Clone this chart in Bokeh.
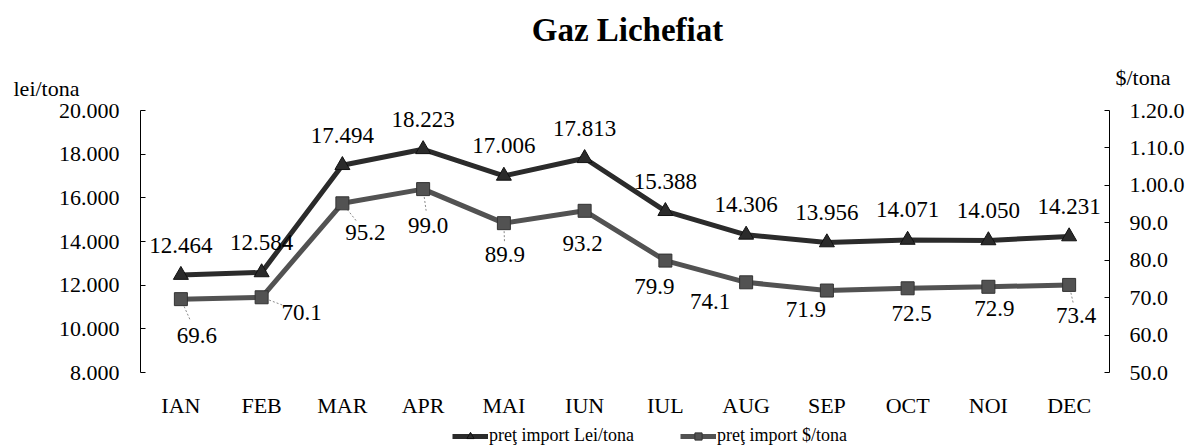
from bokeh.plotting import figure
from bokeh.models import (Range1d, LinearAxis, FixedTicker, ColumnDataSource,
                          LabelSet, Label, Legend, LegendItem)
from bokeh.embed import file_html
from bokeh.resources import INLINE

# ---- data ----
months = ["IAN", "FEB", "MAR", "APR", "MAI", "IUN", "IUL", "AUG", "SEP", "OCT", "NOI", "DEC"]
lei_per_tona = [12464, 12584, 17494, 18223, 17006, 17813, 15388, 14306, 13956, 14071, 14050, 14231]
usd_per_tona = [69.6, 70.1, 95.2, 99.0, 89.9, 93.2, 79.9, 74.1, 71.9, 72.5, 72.9, 73.4]
left_ticks = [8000, 10000, 12000, 14000, 16000, 18000, 20000]
left_tick_labels = ["8.000", "10.000", "12.000", "14.000", "16.000", "18.000", "20.000"]
right_ticks = [50, 60, 70, 80, 90, 100, 110, 120]
right_tick_labels = ["50.0", "60.0", "70.0", "80.0", "90.0", "1.00.0", "1.10.0", "1.20.0"]
series_names = ["preţ import Lei/tona", "preţ import $/tona"]
title_text = "Gaz Lichefiat"
left_unit = "lei/tona"
right_unit = "$/tona"

# ---- layout / styling ----
FONT = "Liberation Serif"
W, H = 1187, 447
AX_L, AX_R, AX_T, AX_B = 140, 1109, 110, 372      # axis box in canvas px
LEI_MIN, LEI_MAX = left_ticks[0], left_ticks[-1]
USD_MIN, USD_MAX = right_ticks[0], right_ticks[-1]
PX_X = (AX_R - AX_L) / len(months)
LEI_PER_PX = (LEI_MAX - LEI_MIN) / (AX_B - AX_T)
USD_PER_PX = (USD_MAX - USD_MIN) / (AX_B - AX_T)
x0 = -0.5 - AX_L / PX_X
x1 = len(months) - 0.5 + (W - AX_R) / PX_X
y0 = LEI_MIN - (H - AX_B) * LEI_PER_PX
y1 = LEI_MAX + AX_T * LEI_PER_PX
u0 = USD_MIN - (H - AX_B) * USD_PER_PX
u1 = USD_MAX + AX_T * USD_PER_PX


def cx(px):
    return x0 + px / PX_X


def cy(py):
    return y1 - py * LEI_PER_PX


usd_label_dx = [16, 40, 23, 5, 1, -2, -11, -36, -21, 4, 6, 7]
usd_label_dy = [-36, -15, -29, -36, -31, -33, -26, -19, -19, -25, -22, -31]
usd_leader = [True, True, True, True, True, False, False, False, False, False, False, True]

xs = list(range(len(months)))

p = figure(width=W, height=H, x_range=Range1d(x0, x1), y_range=Range1d(y0, y1),
           output_backend="svg", toolbar_location=None,
           min_border_left=0, min_border_right=0, min_border_top=0, min_border_bottom=0)
p.extra_y_ranges = {"usd": Range1d(u0, u1)}
p.xgrid.visible = False
p.ygrid.visible = False
p.outline_line_color = None
p.background_fill_color = "white"
p.border_fill_color = "white"

# left axis (fixed at the left edge of the category span)
ya = p.yaxis[0]
ya.fixed_location = -0.5
ya.bounds = (LEI_MIN, LEI_MAX)
ya.ticker = FixedTicker(ticks=left_ticks)
ya.major_label_overrides = {t: l for t, l in zip(left_ticks, left_tick_labels)}
ya.major_tick_in = 5
ya.major_tick_out = 0
ya.minor_tick_line_color = None
ya.axis_line_color = "black"
ya.major_tick_line_color = "black"
ya.major_label_text_font = FONT
ya.major_label_text_font_size = "22px"
ya.major_label_text_color = "black"
ya.major_label_standoff = 21

# right axis
ra = LinearAxis(y_range_name="usd", ticker=FixedTicker(ticks=right_ticks))
ra.fixed_location = len(months) - 0.5
ra.bounds = (USD_MIN, USD_MAX)
ra.major_label_overrides = {t: l for t, l in zip(right_ticks, right_tick_labels)}
ra.major_tick_in = 5
ra.major_tick_out = 0
ra.minor_tick_line_color = None
ra.axis_line_color = "black"
ra.major_tick_line_color = "black"
ra.major_label_text_font = FONT
ra.major_label_text_font_size = "22px"
ra.major_label_text_color = "black"
ra.major_label_standoff = 20
p.add_layout(ra, "right")

# bottom (category) axis
xa = p.xaxis[0]
xa.fixed_location = LEI_MIN
xa.bounds = (-0.5, len(months) - 0.5)
xa.ticker = FixedTicker(ticks=xs)
xa.major_label_overrides = {i: m for i, m in zip(xs, months)}
xa.axis_line_color = None
xa.major_tick_line_color = None
xa.minor_tick_line_color = None
xa.major_label_text_font = FONT
xa.major_label_text_font_size = "22px"
xa.major_label_text_color = "black"
xa.major_label_standoff = 14

# leader lines for usd labels
lx0, ly0, lx1, ly1 = [], [], [], []
for i, v in enumerate(usd_per_tona):
    if usd_leader[i]:
        lx0.append(xs[i]); ly0.append(v)
        lx1.append(xs[i] + 0.6 * usd_label_dx[i] / PX_X)
        ly1.append(v + 0.6 * usd_label_dy[i] * USD_PER_PX)
p.segment(lx0, ly0, lx1, ly1, y_range_name="usd", line_color="#8a8a8a",
          line_width=1, line_dash="2 2")

# series
LEI_C = "#2b2b2b"
USD_C = "#525252"
r1 = p.line(xs, lei_per_tona, line_width=5, line_color=LEI_C)
s1 = p.scatter(xs, lei_per_tona, marker="triangle", size=15,
               fill_color=LEI_C, line_color="#111111")
r2 = p.line(xs, usd_per_tona, line_width=5, line_color=USD_C, y_range_name="usd")
s2 = p.scatter(xs, usd_per_tona, marker="square", size=13, y_range_name="usd",
               fill_color=USD_C, line_color="#333333")

# data labels
src_lei = ColumnDataSource(dict(x=xs, y=lei_per_tona,
                                t=[f"{v:,}".replace(",", ".") for v in lei_per_tona]))
p.add_layout(LabelSet(x="x", y="y", text="t", source=src_lei, x_offset=0, y_offset=30,
                      text_align="center", text_baseline="middle", text_font=FONT,
                      text_font_size="23px", text_color="black"))
src_usd = ColumnDataSource(dict(x=xs, y=usd_per_tona, t=[f"{v:.1f}" for v in usd_per_tona],
                                dx=usd_label_dx, dy=usd_label_dy))
p.add_layout(LabelSet(x="x", y="y", text="t", source=src_usd, x_offset="dx", y_offset="dy",
                      y_range_name="usd", text_align="center", text_baseline="middle",
                      text_font=FONT, text_font_size="23px", text_color="black"))

# title and unit labels
p.add_layout(Label(x=cx(627), y=cy(29), text=title_text, text_align="center",
                   text_baseline="middle", text_font=FONT, text_font_style="bold",
                   text_font_size="33px", text_color="black"))
p.add_layout(Label(x=cx(13), y=cy(88), text=left_unit, text_align="left",
                   text_baseline="middle", text_font=FONT, text_font_size="22px",
                   text_color="black"))
p.add_layout(Label(x=cx(1115), y=cy(77), text=right_unit, text_align="left",
                   text_baseline="middle", text_font=FONT, text_font_size="22px",
                   text_color="black"))

# legend at the bottom
legend = Legend(items=[LegendItem(label=series_names[0], renderers=[r1, s1]),
                       LegendItem(label=series_names[1], renderers=[r2, s2])],
                location=(452, 1), orientation="horizontal", padding=0, margin=0,
                spacing=46, glyph_width=36, glyph_height=18, label_height=18,
                label_standoff=1, border_line_color=None, background_fill_alpha=0,
                label_text_font=FONT, label_text_font_size="18px",
                label_text_color="black")
p.add_layout(legend)

open("out.html", "w").write(file_html(p, INLINE))
